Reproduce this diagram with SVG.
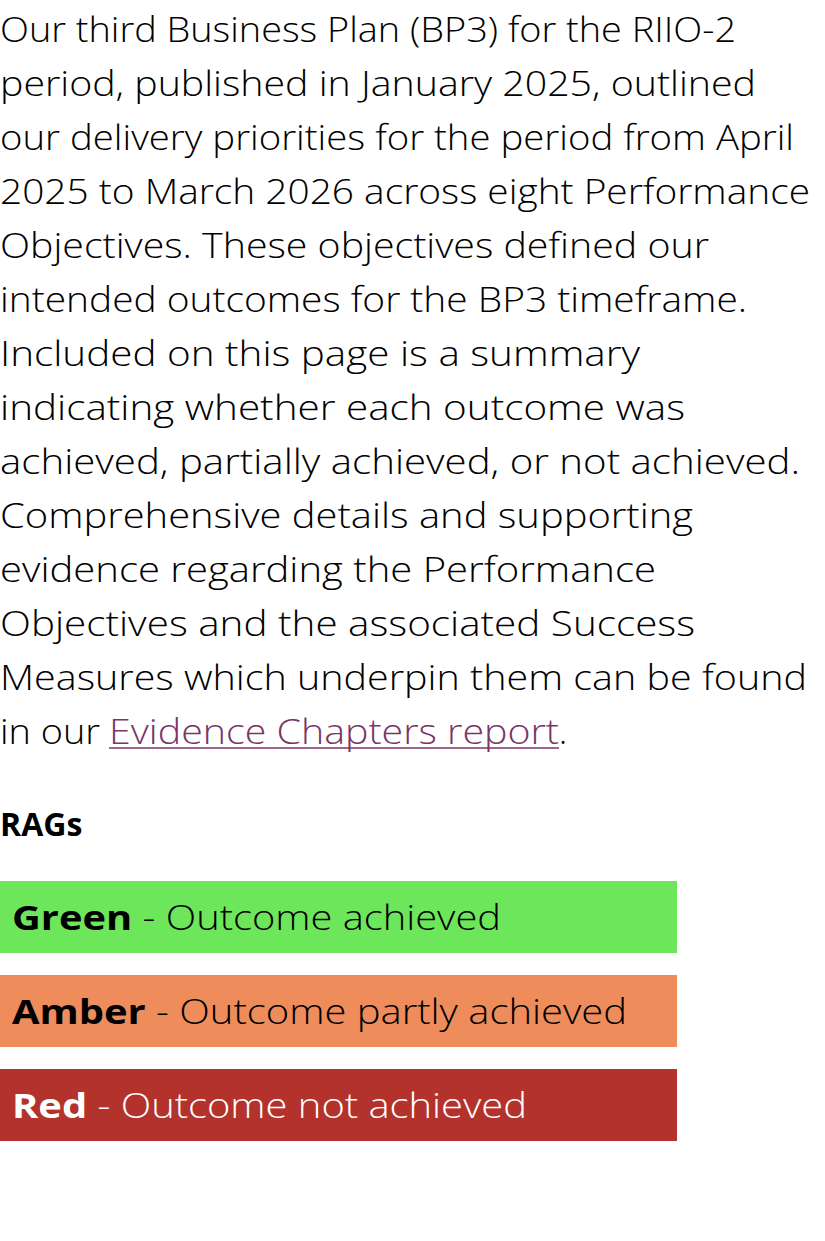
<svg xmlns="http://www.w3.org/2000/svg" width="825" height="1241" viewBox="0 0 825 1241">
<style>
.b{font-family:"Open Sans","Liberation Sans",sans-serif;font-weight:300;font-size:34px;fill:#000}
.k{font-weight:700}
.w{fill:#fff}
</style>
<rect width="825" height="1241" fill="#fff"/>
<g class="b" >
<text x="0" y="42" textLength="736" lengthAdjust="spacingAndGlyphs">Our third Business Plan (BP3) for the RIIO-2</text>
<text x="0" y="96" textLength="756" lengthAdjust="spacingAndGlyphs">period, published in January 2025, outlined</text>
<text x="0" y="150" textLength="794" lengthAdjust="spacingAndGlyphs">our delivery priorities for the period from April</text>
<text x="0" y="204" textLength="810" lengthAdjust="spacingAndGlyphs">2025 to March 2026 across eight Performance</text>
<text x="0" y="258" textLength="709" lengthAdjust="spacingAndGlyphs">Objectives. These objectives defined our</text>
<text x="0" y="312" textLength="747" lengthAdjust="spacingAndGlyphs">intended outcomes for the BP3 timeframe.</text>
<text x="0" y="366" textLength="640" lengthAdjust="spacingAndGlyphs">Included on this page is a summary</text>
<text x="0" y="420" textLength="685" lengthAdjust="spacingAndGlyphs">indicating whether each outcome was</text>
<text x="0" y="474" textLength="800" lengthAdjust="spacingAndGlyphs">achieved, partially achieved, or not achieved.</text>
<text x="0" y="528" textLength="693" lengthAdjust="spacingAndGlyphs">Comprehensive details and supporting</text>
<text x="0" y="582" textLength="656" lengthAdjust="spacingAndGlyphs">evidence regarding the Performance</text>
<text x="0" y="636" textLength="695" lengthAdjust="spacingAndGlyphs">Objectives and the associated Success</text>
<text x="0" y="690" textLength="807" lengthAdjust="spacingAndGlyphs">Measures which underpin them can be found</text>
<text x="0" y="744" textLength="100" lengthAdjust="spacingAndGlyphs">in our</text>
<text x="109" y="744" textLength="450" lengthAdjust="spacingAndGlyphs" style="fill:#7a3566">Evidence Chapters report</text>
<text x="559" y="744">.</text>
</g>
<line x1="109" y1="748" x2="559" y2="748" stroke="#7a3566" stroke-width="1.5"/>
<text class="b k" x="0" y="836" style="font-size:32px">RAGs</text>
<rect x="0" y="881" width="677" height="72" fill="#6ee65c"/>
<rect x="0" y="975" width="677" height="72" fill="#ef8c5c"/>
<rect x="0" y="1069" width="677" height="72" fill="#b3322b"/>
<text class="b" x="12" y="930" textLength="489" lengthAdjust="spacingAndGlyphs"><tspan class="k">Green</tspan> - Outcome achieved</text>
<text class="b" x="12" y="1024" textLength="615" lengthAdjust="spacingAndGlyphs"><tspan class="k">Amber</tspan> - Outcome partly achieved</text>
<text class="b w" x="12" y="1118" textLength="515" lengthAdjust="spacingAndGlyphs"><tspan class="k">Red</tspan> - Outcome not achieved</text>
</svg>
